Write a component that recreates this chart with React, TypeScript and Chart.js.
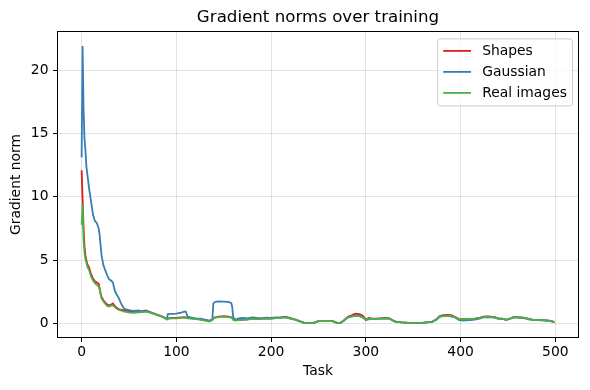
import React, { useEffect, useRef } from "react";
import { Chart, registerables } from "chart.js";

Chart.register(...registerables);

const chartTitle = "Gradient norms over training";
const xTitle = "Task";
const yTitle = "Gradient norm";
const seriesLabels = ["Shapes", "Gaussian", "Real images"];
const seriesColors = ["#e41a1c", "#377eb8", "#4daf4a"];
const xTicks = [0, 100, 200, 300, 400, 500];
const yTicks = [0, 5, 10, 15, 20];

const tasks = [
  0, 1, 2, 3, 4, 5, 6, 8, 10, 12, 14, 16, 18, 19, 20, 21, 23, 25, 27, 29,
  31, 33, 35, 37, 39, 41, 43, 45, 48, 51, 55, 60, 65, 68, 72, 76, 80, 84, 88, 90,
  91, 95, 100, 105, 109, 110, 112, 116, 120, 125, 130, 135, 138, 139, 141, 145, 150, 155, 158, 159,
  160, 162, 166, 170, 175, 180, 185, 190, 195, 200, 205, 210, 215, 220, 225, 230, 235, 240, 245, 250,
  255, 260, 265, 270, 273, 277, 281, 285, 289, 293, 297, 300, 303, 306, 310, 315, 320, 325, 328, 332,
  338, 345, 352, 358, 364, 370, 374, 378, 382, 386, 390, 394, 398, 402, 406, 410, 415, 420, 424, 428,
  432, 436, 440, 444, 448, 452, 456, 460, 464, 468, 472, 476, 480, 485, 490, 495, 499,
];

const shapes = [
  12.1, 9.8, 7.6, 6.1, 5.4, 5.0, 4.7, 4.4, 3.9, 3.55, 3.35, 3.25, 3.15, 2.8, 2.4, 2.1, 1.85, 1.65, 1.5, 1.45,
  1.5, 1.6, 1.4, 1.25, 1.15, 1.1, 1.08, 1.05, 1.0, 0.95, 0.92, 0.95, 1.0, 1.05, 0.92, 0.82, 0.7, 0.6, 0.45, 0.38,
  0.42, 0.45, 0.45, 0.5, 0.52, 0.5, 0.45, 0.42, 0.4, 0.35, 0.3, 0.22, 0.35, 0.45, 0.5, 0.55, 0.6, 0.55, 0.5, 0.45,
  0.35, 0.28, 0.3, 0.32, 0.35, 0.45, 0.38, 0.4, 0.42, 0.4, 0.45, 0.48, 0.55, 0.45, 0.35, 0.2, 0.07, 0.05, 0.07, 0.2,
  0.22, 0.2, 0.2, 0.05, 0.05, 0.28, 0.55, 0.65, 0.78, 0.75, 0.6, 0.32, 0.45, 0.42, 0.4, 0.42, 0.45, 0.42, 0.28, 0.15,
  0.1, 0.07, 0.05, 0.05, 0.1, 0.15, 0.32, 0.6, 0.68, 0.7, 0.68, 0.55, 0.38, 0.35, 0.36, 0.38, 0.4, 0.45, 0.55, 0.58,
  0.56, 0.52, 0.42, 0.4, 0.3, 0.4, 0.52, 0.52, 0.5, 0.46, 0.38, 0.32, 0.3, 0.28, 0.26, 0.22, 0.12,
];

const gaussian = [
  13.1, 21.9, 17.0, 14.6, 13.7, 12.4, 11.8, 10.6, 9.6, 8.6, 8.1, 7.95, 7.5, 7.0, 6.2, 5.4, 4.6, 4.2, 3.8, 3.5,
  3.4, 3.25, 2.6, 2.3, 2.05, 1.7, 1.4, 1.2, 1.1, 1.05, 1.0, 1.05, 0.95, 1.0, 0.92, 0.8, 0.68, 0.6, 0.45, 0.4,
  0.75, 0.78, 0.8, 0.88, 0.97, 0.95, 0.55, 0.48, 0.42, 0.4, 0.32, 0.22, 0.3, 1.6, 1.72, 1.75, 1.74, 1.72, 1.62, 1.3,
  0.5, 0.32, 0.42, 0.45, 0.42, 0.5, 0.45, 0.43, 0.47, 0.46, 0.5, 0.5, 0.52, 0.4, 0.32, 0.2, 0.07, 0.05, 0.07, 0.2,
  0.22, 0.2, 0.2, 0.05, 0.05, 0.25, 0.5, 0.58, 0.65, 0.62, 0.5, 0.28, 0.35, 0.38, 0.38, 0.4, 0.42, 0.4, 0.25, 0.15,
  0.1, 0.07, 0.05, 0.05, 0.1, 0.15, 0.3, 0.55, 0.6, 0.6, 0.58, 0.5, 0.3, 0.25, 0.26, 0.28, 0.32, 0.4, 0.5, 0.52,
  0.5, 0.47, 0.38, 0.38, 0.3, 0.38, 0.5, 0.48, 0.45, 0.43, 0.35, 0.3, 0.28, 0.27, 0.25, 0.2, 0.13,
];

const realImages = [
  7.8, 9.4, 6.6, 5.6, 5.1, 4.8, 4.5, 4.2, 3.7, 3.4, 3.2, 3.05, 2.95, 2.7, 2.3, 2.0, 1.75, 1.55, 1.4, 1.35,
  1.42, 1.45, 1.3, 1.18, 1.1, 1.05, 1.0, 0.95, 0.92, 0.88, 0.85, 0.9, 0.92, 0.95, 0.88, 0.78, 0.68, 0.58, 0.42, 0.32,
  0.38, 0.42, 0.42, 0.46, 0.48, 0.46, 0.42, 0.4, 0.37, 0.32, 0.25, 0.16, 0.3, 0.4, 0.48, 0.52, 0.56, 0.52, 0.48, 0.42,
  0.3, 0.25, 0.28, 0.3, 0.32, 0.38, 0.36, 0.38, 0.4, 0.4, 0.44, 0.46, 0.5, 0.42, 0.33, 0.18, 0.06, 0.05, 0.07, 0.2,
  0.22, 0.21, 0.2, 0.05, 0.05, 0.25, 0.48, 0.55, 0.62, 0.6, 0.48, 0.3, 0.4, 0.38, 0.38, 0.4, 0.42, 0.4, 0.26, 0.15,
  0.1, 0.07, 0.05, 0.06, 0.1, 0.16, 0.3, 0.56, 0.6, 0.62, 0.6, 0.52, 0.35, 0.33, 0.35, 0.37, 0.4, 0.43, 0.52, 0.55,
  0.54, 0.5, 0.4, 0.4, 0.3, 0.4, 0.52, 0.5, 0.48, 0.45, 0.36, 0.3, 0.29, 0.28, 0.26, 0.22, 0.12,
];

const seriesValues = [shapes, gaussian, realImages];
const FONT = "'DejaVu Sans', sans-serif";

const decorPlugin = {
  id: "decor",
  afterDatasetsDraw(chart: any) {
    const { ctx, chartArea: a } = chart;
    ctx.save();
    ctx.strokeStyle = "#000";
    ctx.lineWidth = 1;
    const l = Math.round(a.left) - 0.5;
    const t = Math.round(a.top) - 0.5;
    const r = Math.round(a.right) + 0.5;
    const b = Math.round(a.bottom) + 0.5;
    ctx.strokeRect(l, t, r - l, b - t);
    ctx.restore();
  },
  afterDraw(chart: any) {
    const { ctx, chartArea: a } = chart;
    ctx.save();
    ctx.fillStyle = "#000";
    ctx.font = `16.67px ${FONT}`;
    ctx.textAlign = "center";
    ctx.textBaseline = "middle";
    ctx.fillText(chartTitle, (a.left + a.right) / 2, 18);

    const fs = 13.89;
    ctx.font = `${fs}px ${FONT}`;
    let maxW = 0;
    seriesLabels.forEach((s) => {
      maxW = Math.max(maxW, ctx.measureText(s).width);
    });
    const pad = 5.6;
    const handle = 27.8;
    const gap = 11.1;
    const w = pad + handle + gap + maxW + pad;
    const h = 67;
    const right = a.right - 5.5;
    const top = a.top + 6.9;
    const left = right - w;
    const rad = 2.8;
    ctx.beginPath();
    ctx.moveTo(left + rad, top);
    ctx.lineTo(right - rad, top);
    ctx.arcTo(right, top, right, top + rad, rad);
    ctx.lineTo(right, top + h - rad);
    ctx.arcTo(right, top + h, right - rad, top + h, rad);
    ctx.lineTo(left + rad, top + h);
    ctx.arcTo(left, top + h, left, top + h - rad, rad);
    ctx.lineTo(left, top + rad);
    ctx.arcTo(left, top, left + rad, top, rad);
    ctx.closePath();
    ctx.fillStyle = "rgba(255,255,255,0.8)";
    ctx.fill();
    ctx.strokeStyle = "#cccccc";
    ctx.lineWidth = 1;
    ctx.stroke();
    seriesLabels.forEach((s, i) => {
      const cy = top + 12 + i * 21;
      ctx.strokeStyle = seriesColors[i];
      ctx.lineWidth = 1.8;
      ctx.beginPath();
      ctx.moveTo(left + pad, cy);
      ctx.lineTo(left + pad + handle, cy);
      ctx.stroke();
      ctx.fillStyle = "#000";
      ctx.textAlign = "left";
      ctx.textBaseline = "middle";
      ctx.fillText(s, left + pad + handle + gap, cy);
    });
    ctx.restore();
  },
};

export default function App() {
  const canvasRef = useRef<HTMLCanvasElement | null>(null);

  useEffect(() => {
    if (!canvasRef.current) return;
    const orders = [3, 2, 1];
    const chart = new Chart(canvasRef.current, {
      type: "line",
      data: {
        datasets: seriesValues.map((vals, i) => ({
          label: seriesLabels[i],
          data: tasks.map((t, j) => ({ x: t, y: vals[j] })),
          borderColor: seriesColors[i],
          backgroundColor: seriesColors[i],
          borderWidth: 1.8,
          pointRadius: 0,
          tension: 0,
          fill: false,
          order: orders[i],
        })),
      },
      options: {
        responsive: false,
        animation: false,
        events: [],
        layout: { padding: { left: 0, right: 12, top: 32, bottom: 0 } },
        plugins: {
          legend: { display: false },
          title: { display: false },
          tooltip: { enabled: false },
        },
        scales: {
          x: {
            type: "linear",
            min: -24.95,
            max: 523.95,
            afterBuildTicks: (scale: any) => {
              scale.ticks = xTicks.map((v) => ({ value: v }));
            },
            afterFit: (scale: any) => {
              scale.height = 53;
            },
            grid: {
              color: "rgba(176,176,176,0.35)",
              lineWidth: 1,
              tickColor: "#000",
              tickLength: 5,
              drawTicks: true,
            },
            border: { display: false },
            ticks: {
              color: "#000",
              font: { family: FONT, size: 13.89 },
              padding: 2,
              maxRotation: 0,
              autoSkip: false,
            },
            title: {
              display: true,
              text: xTitle,
              color: "#000",
              font: { family: FONT, size: 13.89 },
              padding: { top: 0, bottom: 10 },
            },
          },
          y: {
            type: "linear",
            min: -1.05,
            max: 23.0,
            afterBuildTicks: (scale: any) => {
              scale.ticks = yTicks.map((v) => ({ value: v }));
            },
            afterFit: (scale: any) => {
              scale.width = 58;
            },
            grid: {
              color: "rgba(176,176,176,0.35)",
              lineWidth: 1,
              tickColor: "#000",
              tickLength: 5,
              drawTicks: true,
            },
            border: { display: false },
            ticks: {
              color: "#000",
              font: { family: FONT, size: 13.89 },
              padding: 4.5,
              autoSkip: false,
            },
            title: {
              display: true,
              text: yTitle,
              color: "#000",
              font: { family: FONT, size: 13.89 },
              padding: { top: 8, bottom: 0 },
            },
          },
        },
      },
      plugins: [decorPlugin],
    });
    return () => chart.destroy();
  }, []);

  return (
    <div style={{ position: "absolute", left: 0, top: 0, width: 590, height: 390, background: "#fff" }}>
      <canvas ref={canvasRef} width={590} height={390} style={{ display: "block" }} />
    </div>
  );
}
